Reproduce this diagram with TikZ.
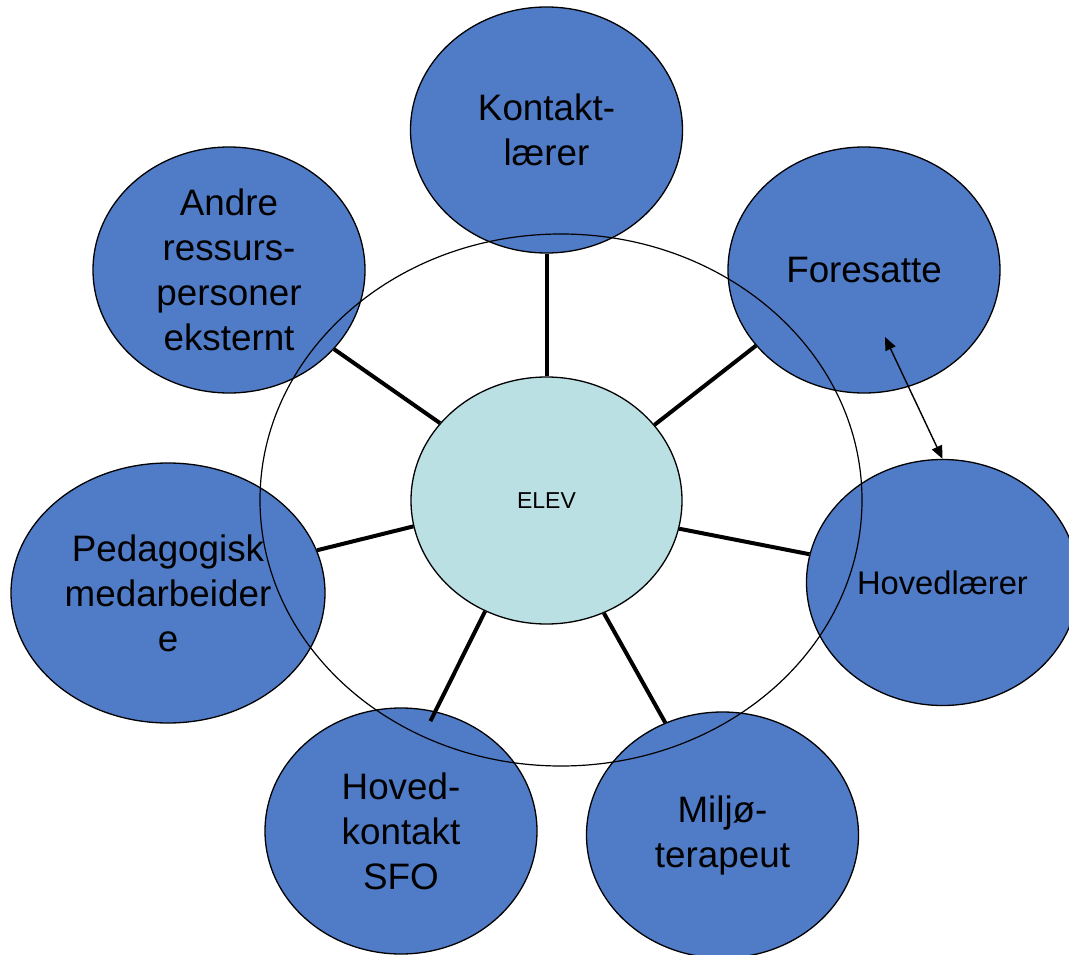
\documentclass[tikz,border=0pt]{standalone}
\usepackage{fontspec}
\setmainfont{Liberation Sans}
\usetikzlibrary{shapes.geometric,arrows.meta}
\definecolor{roleblue}{RGB}{80,123,199}
\definecolor{elevfill}{RGB}{186,224,227}
\tikzset{
  role/.style={ellipse, draw=black, line width=1.3pt, fill=roleblue, inner sep=0pt,
    minimum width=272pt, minimum height=246pt, align=center,
    font=\fontsize{36.8}{45}\selectfont},
  centre/.style={ellipse, draw=black, line width=1.3pt, fill=elevfill, inner sep=0pt,
    minimum width=271pt, minimum height=247pt, font=\fontsize{23}{28}\selectfont},
  ring/.style={ellipse, draw=black, line width=1.2pt, inner sep=0pt,
    minimum width=602pt, minimum height=532pt},
  conn/.style={line width=4pt},
  link/.style={line width=1.4pt, {Triangle[length=13pt,width=11pt]}-{Triangle[length=13pt,width=11pt]}}
}
\begin{document}
\begin{tikzpicture}[x=1pt,y=-1pt]
\useasboundingbox (0,0) rectangle (1069,955);
% outer role nodes
\node[role] (kontakt) at (546.5,130) {Kontakt-\\lærer};
\node[role] (foresatte) at (864,270) {Foresatte};
\node[role] (andre) at (229,270) {Andre\\ressurs-\\personer\\eksternt};
\node[role, minimum width=314pt, minimum height=260pt] (ped) at (168,593) {Pedagogisk\\medarbeider\\e};
\node[role, font=\fontsize{32.7}{40}\selectfont] (hoved) at (942.5,582.5) {Hovedlærer};
\node[role] (sfo) at (401,831) {Hoved-\\kontakt\\SFO};
\node[role] (miljo) at (722.5,835) {Miljø-\\terapeut};
% ring
\node[ring] (ringe) at (561,500) {};
% centre
\node[centre] (elev) at (546.5,500.5) {ELEV};
% connectors
\draw[conn] (elev.90) -- (kontakt.270);
\draw[conn] (elev.35.8) -- (foresatte.215.8);
\draw[conn] (elev.144.4) -- (andre.323.6);
\draw[conn] (elev.191.6) -- (ped.16.9);
\draw[conn] (elev.348.3) -- (hoved.168.6);
\draw[conn, shorten >=-11pt] (elev.241.9) -- (sfo.74);
\draw[conn] (elev.297.8) -- (miljo.117.1);
% arrow
\coordinate (fa) at (885,337);
\draw[link] (fa) -- (hoved.north);
\end{tikzpicture}
\end{document}
